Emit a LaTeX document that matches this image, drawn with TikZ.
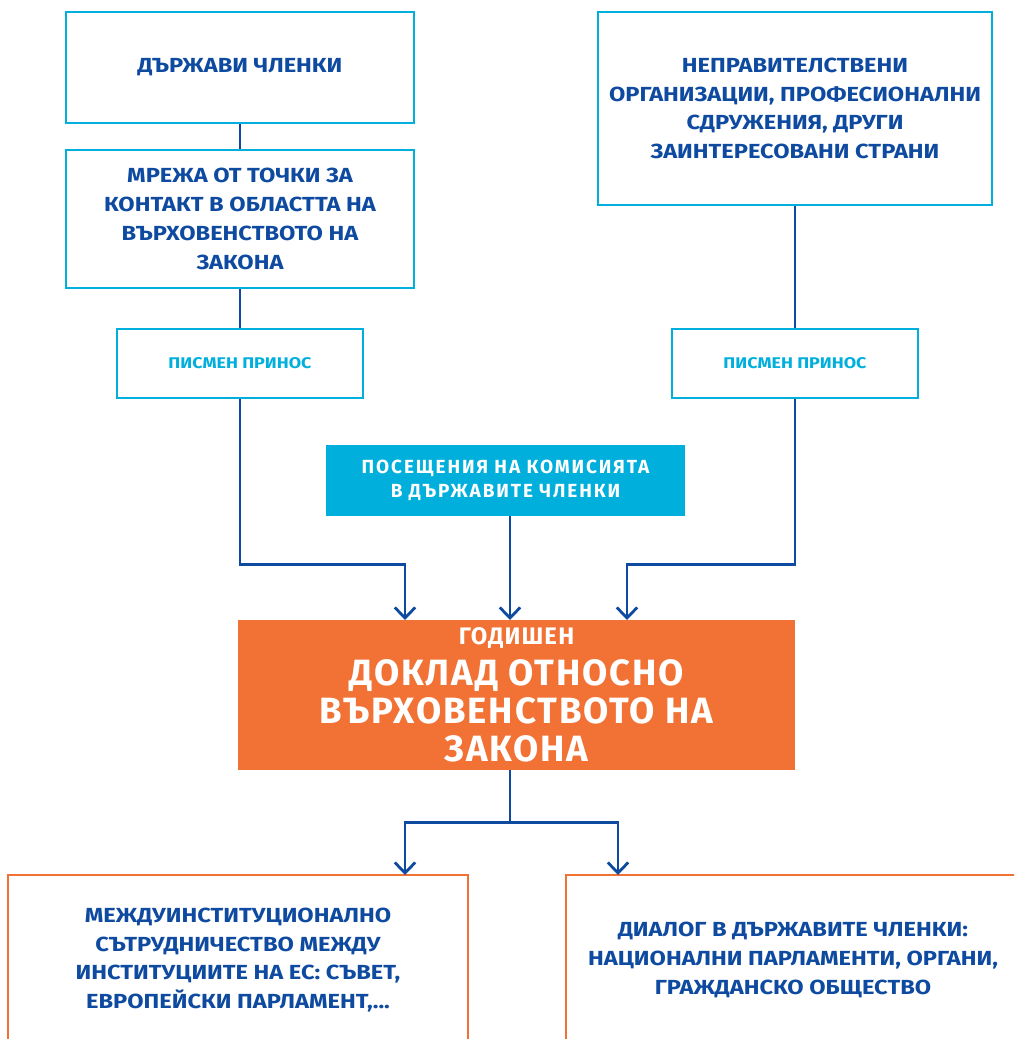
\documentclass[tikz,border=0pt]{standalone}
\usepackage{fontspec}
\setmainfont{Fira Sans}
\newfontfamily\carre{Fira Sans}[FakeStretch=1.16]
\newfontfamily\espace{Fira Sans}[LetterSpace=10]
\newfontfamily\titre{Fira Sans}[LetterSpace=5]
\usetikzlibrary{arrows.meta}

\definecolor{bleu}{RGB}{14, 74, 160}
\definecolor{ciel}{RGB}{0, 175, 220}
\definecolor{carotte}{RGB}{241, 114, 52}
\definecolor{blanc}{RGB}{255, 255, 255}

\tikzset{
  cadre/.style={draw=ciel, line width=2pt, text=bleu, align=center,
    font=\carre\bfseries\fontsize{14.5}{20.5}\selectfont},
  petit/.style={draw=ciel, line width=2pt, text=ciel, align=center,
    font=\carre\bfseries\fontsize{11}{14}\selectfont,
    minimum width=6.15cm, minimum height=1.725cm},
  sortie/.style={draw=carotte, line width=2pt, text=bleu, align=center,
    font=\carre\bfseries\fontsize{14.5}{20.5}\selectfont, minimum height=4.25cm},
  trait/.style={draw=bleu, line width=2pt},
  fleche/.style={trait, -{Straight Barb[length=7.5pt, width=14.5pt, line width=2pt]}}
}

\begin{document}
\begin{tikzpicture}[x=0.025cm, y=-0.025cm]
  \useasboundingbox (0, 0) rectangle (1014, 1039);
  \clip (0, 0) rectangle (1014, 1039);
  % branche gauche
  \node[cadre, minimum width=8.7cm, minimum height=2.775cm] (etats) at (240, 67.5)
    {ДЪРЖАВИ ЧЛЕНКИ};
  \node[cadre, minimum width=8.7cm, minimum height=3.45cm] (reseau) at (240, 219)
    {МРЕЖА ОТ ТОЧКИ ЗА\\КОНТАКТ В ОБЛАСТТА НА\\ВЪРХОВЕНСТВОТО НА\\ЗАКОНА};
  \node[petit] (apportG) at (240, 363.5) {ПИСМЕН ПРИНОС};
  % branche droite
  \node[cadre, minimum width=9.85cm, minimum height=4.825cm] (ong) at (795, 108.5)
    {НЕПРАВИТЕЛСТВЕНИ\\ОРГАНИЗАЦИИ, ПРОФЕСИОНАЛНИ\\СДРУЖЕНИЯ, ДРУГИ\\ЗАИНТЕРЕСОВАНИ СТРАНИ};
  \node[petit] (apportD) at (795, 363.5) {ПИСМЕН ПРИНОС};
  % visites
  \node[fill=ciel, text=blanc, align=center, minimum width=8.975cm, minimum height=1.775cm,
    font=\espace\bfseries\fontsize{13.5}{17.5}\selectfont] (visites) at (505.5, 480.5)
    {ПОСЕЩЕНИЯ НА КОМИСИЯТА\\В ДЪРЖАВИТЕ ЧЛЕНКИ};
  % rapport
  \node[fill=carotte, text=blanc, align=center, minimum width=13.925cm, minimum height=3.75cm,
    font=\titre\bfseries\fontsize{26}{27}\selectfont] (rapport) at (516.5, 695)
    {{\fontsize{17}{17}\selectfont ГОДИШЕН}\\[2pt]ДОКЛАД ОТНОСНО\\ВЪРХОВЕНСТВОТО НА\\ЗАКОНА};
  % suites
  \node[sortie, minimum width=11.5cm] (inst) at (238, 960)
    {МЕЖДУИНСТИТУЦИОНАЛНО\\СЪТРУДНИЧЕСТВО МЕЖДУ\\ИНСТИТУЦИИТЕ НА ЕС: СЪВЕТ,\\ЕВРОПЕЙСКИ ПАРЛАМЕНТ,...};
  \node[sortie, minimum width=11.35cm] (dialogue) at (793, 960)
    {ДИАЛОГ В ДЪРЖАВИТЕ ЧЛЕНКИ:\\НАЦИОНАЛНИ ПАРЛАМЕНТИ, ОРГАНИ,\\ГРАЖДАНСКО ОБЩЕСТВО};
  % liaisons
  \coordinate (versG) at (405, 620);
  \coordinate (versV) at (510, 620);
  \coordinate (versD) at (627, 620);
  \coordinate (versI) at (405, 875);
  \coordinate (versO) at (618, 875);
  \draw[trait] (etats) -- (reseau);
  \draw[trait] (reseau) -- (apportG);
  \draw[trait] (ong) -- (apportD);
  \draw[fleche] (apportG.south) -- ++(0, 165) -| (versG);
  \draw[fleche] (apportD.south) -- ++(0, 165) -| (versD);
  \draw[fleche] (visites.south -| versV) -- (versV);
  \draw[trait] (rapport.south -| versV) -- ++(0, 52) coordinate (bif);
  \draw[fleche] (bif) -| (versI);
  \draw[fleche] (bif) -| (versO);
\end{tikzpicture}
\end{document}
